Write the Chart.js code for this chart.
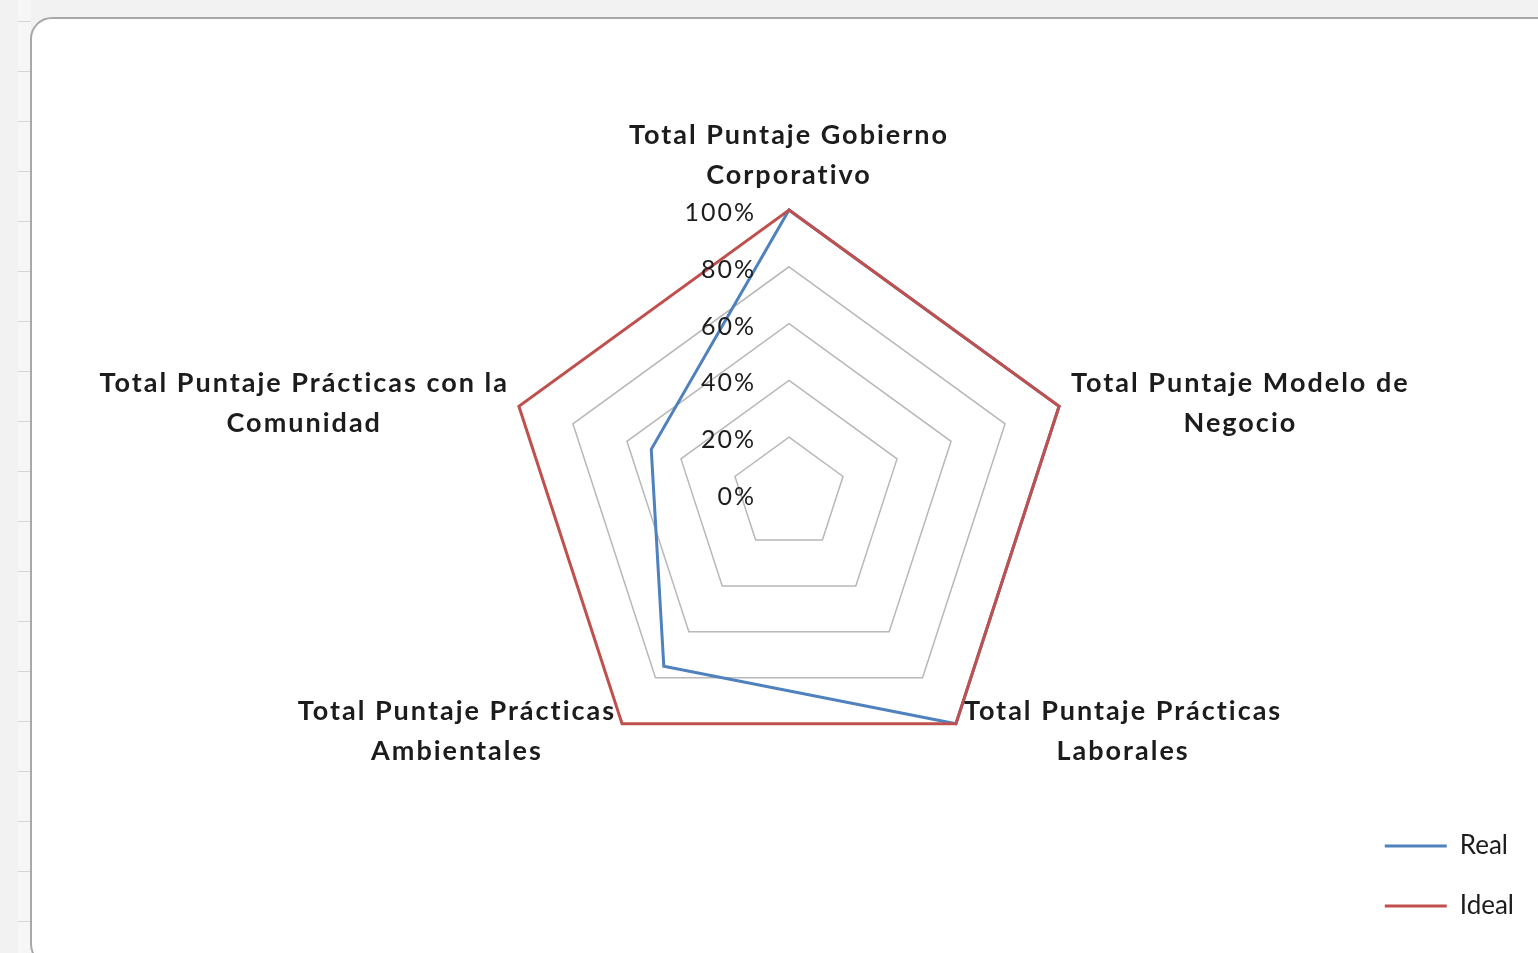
<!DOCTYPE html>
<html>
<head>
<meta charset="utf-8">
<script src="https://cdn.jsdelivr.net/npm/chart.js@4.4.1/dist/chart.umd.min.js"></script>
<style>
  body { margin: 0; background: #f2f2f2; overflow: hidden; }
  #sheet {
    position: absolute; left: 18px; top: 0; width: 13px; height: 953px;
    background: repeating-linear-gradient(to bottom, #f6f6f6 0 21px, #d6d6d6 21px 22px, #f6f6f6 22px 50px);
  }
  #frame {
    position: absolute; left: 30px; top: 17px; width: 1540px; height: 945px;
    background: #fff; border: 2px solid #a8a8a8; border-radius: 22px;
  }
  #radar { position: absolute; left: 0; top: 0; }
</style>
</head>
<body>
<div id="sheet"></div>
<div id="frame"></div>
<canvas id="radar" width="1538" height="953"></canvas>
<script>
  // Categories (axis names, two lines each as in Excel)
  const categories = [
    ['Total Puntaje Gobierno', 'Corporativo'],
    ['Total Puntaje Modelo de', 'Negocio'],
    ['Total Puntaje Prácticas', 'Laborales'],
    ['Total Puntaje Prácticas', 'Ambientales'],
    ['Total Puntaje Prácticas con la', 'Comunidad']
  ];

  // Series values in percent
  const realValues = [100, 100, 100, 75, 51];
  const idealValues = [100, 100, 100, 100, 100];

  // Tick labels on the radial axis
  const tickValues = [0, 20, 40, 60, 80, 100];

  // Draws the axis names and the % ticks the way Excel places them
  const excelLabels = {
    id: 'excelLabels',
    afterDraw(chart) {
      const r = chart.scales.r;
      const ctx = chart.ctx;
      ctx.save();
      ctx.fillStyle = '#1c1c1c';
      ctx.textBaseline = 'middle';

      // tick labels, right aligned left of the vertical axis
      ctx.font = '25px Lato';
      ctx.letterSpacing = '2px';
      ctx.textAlign = 'right';
      tickValues.forEach(v => {
        const d = r.getDistanceFromCenterForValue(v);
        ctx.fillText(v + '%', r.xCenter - 33, r.yCenter - d + 3);
      });

      // category labels
      ctx.font = 'bold 27px Lato';
      ctx.letterSpacing = '2px';
      ctx.textAlign = 'center';
      const lineH = 40;
      categories.forEach((lines, i) => {
        const p = r.getPointPosition(i, r.drawingArea);
        const w = Math.max(...lines.map(t => ctx.measureText(t).width));
        let cx, top;
        if (Math.abs(p.x - r.xCenter) < 1) {
          cx = p.x;
          top = p.y - 35 - lineH * (lines.length - 1);
        } else if (p.x > r.xCenter) {
          const gap = p.y < r.yCenter ? 12 : 8;
          cx = p.x + gap + w / 2;
          top = p.y < r.yCenter ? p.y - 23 : p.y - 12;
        } else {
          const gap = p.y < r.yCenter ? 10 : 6;
          cx = p.x - gap - w / 2;
          top = p.y < r.yCenter ? p.y - 23 : p.y - 12;
        }
        lines.forEach((t, k) => ctx.fillText(t, cx, top + k * lineH));
      });
      ctx.restore();
    }
  };

  const data = {
    labels: categories,
    datasets: [{
      label: 'Real',
      data: realValues,
      borderColor: '#4F81BD',
      backgroundColor: '#4F81BD',
      borderWidth: 3,
      pointRadius: 0,
      fill: false,
      order: 1
    }, {
      label: 'Ideal',
      data: idealValues,
      borderColor: '#C0504D',
      backgroundColor: '#C0504D',
      borderWidth: 3,
      pointRadius: 0,
      fill: false,
      order: 0
    }]
  };

  const config = {
    type: 'radar',
    data: data,
    options: {
      responsive: false,
      animation: false,
      layout: {
        padding: { left: 228, right: 14, top: 36, bottom: 0 }
      },
      scales: {
        r: {
          min: 0,
          max: 100,
          ticks: { display: false, stepSize: 20 },
          pointLabels: { display: false },
          angleLines: { display: false },
          grid: { color: '#b8b8b8', lineWidth: 1.5 },
          afterFit(scale) {
            scale.drawingArea = 284;
          }
        }
      },
      plugins: {
        tooltip: { enabled: false },
        legend: {
          position: 'right',
          align: 'end',
          labels: {
            usePointStyle: true,
            pointStyle: 'line',
            pointStyleWidth: 62,
            padding: 34,
            color: '#1c1c1c',
            font: { family: 'Lato', size: 26 },
            sort: (a, b) => a.datasetIndex - b.datasetIndex
          }
        }
      }
    },
    plugins: [excelLabels]
  };

  const radarChart = new Chart(document.getElementById('radar'), config);
</script>
</body>
</html>
